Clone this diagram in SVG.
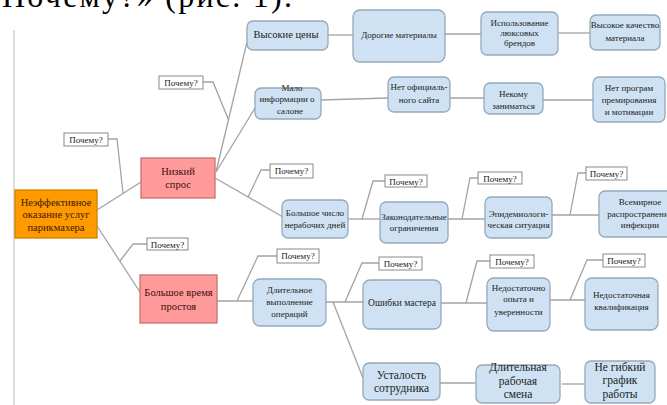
<svg xmlns="http://www.w3.org/2000/svg" width="667" height="405" viewBox="0 0 667 405">
<style>
text{font-family:"Liberation Serif","Times New Roman",serif;fill:#222;text-anchor:middle}
.b rect{fill:#cfe2f3;stroke:#95a9ba;stroke-width:1.3}
.b text{font-size:9px}
.big text{font-size:11.5px}
.p rect{fill:#ff9a9a;stroke:#c97070;stroke-width:1.3}
.p text{font-size:10.5px;fill:#3a1010}
.r rect{fill:#ff9900;stroke:#d08000;stroke-width:1.3}
.r text{font-size:10.5px;fill:#3a1a00}
.q rect{fill:#fff;stroke:#8a8a8a;stroke-width:1}
.q text{font-size:9px}
#connectors path{fill:none;stroke:#a3a3a3;stroke-width:1.3}
</style>
<rect width="667" height="405" fill="#fff"/>
<text x="2" y="7" style="font-size:32px;fill:#000;text-anchor:start" textLength="290" lengthAdjust="spacing">Почему?» (рис. 1).</text>
<line x1="14" y1="30" x2="14" y2="405" stroke="#cfcfcf" stroke-width="1.5"/>

<g id="connectors">
<path d="M97,210 L141,182"/>
<path d="M108,139 L117,139 L123,193"/>
<path d="M97,226 L140,292"/>
<path d="M147,244 L133,244 L120,261"/>
<path d="M216,172 L247,42"/>
<path d="M216,172 L255,108"/>
<path d="M203,82 L213,82 L228.6,120"/>
<path d="M215,178 L283,217"/>
<path d="M270,170 L261,170 L248,197"/>
<path d="M328,35 L353,35"/>
<path d="M445,34 L481,34"/>
<path d="M558,33 L590,33"/>
<path d="M321,100 L388,98"/>
<path d="M450,98 L484,98"/>
<path d="M543,100 L593,100"/>
<path d="M348,219 L380,219"/>
<path d="M385,181 L373,181 L362,219"/>
<path d="M448,219 L485,219"/>
<path d="M478,178 L470,178 L462,219"/>
<path d="M552,215 L599,215"/>
<path d="M586,173 L578,173 L570,215"/>
<path d="M217,301 L253,301"/>
<path d="M277,256 L258,256 L237,301"/>
<path d="M326,302 L363,302"/>
<path d="M333,302 L363,378"/>
<path d="M379,263 L362,263 L345,302"/>
<path d="M441,303 L487,303"/>
<path d="M490,261 L477,261 L466,303"/>
<path d="M550,300 L585,300"/>
<path d="M603,260 L587,260 L570,300"/>
<path d="M440,383 L475,383"/>
<path d="M562,384 L585,384"/>
</g>

<g id="root" class="r"><rect x="15" y="190" width="82" height="48"/>
<text x="56" y="206">Неэффективное</text><text x="56" y="218">оказание услуг</text><text x="56" y="231">парикмахера</text></g>

<g id="low-demand" class="p"><rect x="141" y="158" width="74" height="40"/>
<text x="178" y="175">Низкий</text><text x="178" y="188">спрос</text></g>
<g id="downtime" class="p"><rect x="140" y="275" width="77" height="48"/>
<text x="178.5" y="296">Большое время</text><text x="178.5" y="310">простоя</text></g>

<g id="high-prices" class="b"><rect x="247" y="21" width="81" height="29" rx="6"/>
<text x="286" y="38" style="font-size:10.5px">Высокие цены</text></g>
<g id="expensive-materials" class="b"><rect x="353" y="10" width="92" height="52" rx="7"/>
<text x="399" y="38">Дорогие материалы</text></g>
<g id="luxury-brands" class="b"><rect x="481" y="12" width="77" height="43" rx="6"/>
<text x="519.5" y="26">Использование</text><text x="519.5" y="36">люксовых</text><text x="519.5" y="46">брендов</text></g>
<g id="high-quality" class="b"><rect x="590" y="15" width="70" height="35" rx="6"/>
<text x="625" y="28">Высокое качество</text><text x="625" y="41">материала</text></g>

<g id="little-info" class="b"><rect x="255" y="88" width="66" height="31" rx="6"/>
<text x="292" y="91">Мало</text><text x="287" y="102">информации о</text><text x="290" y="114">салоне</text></g>
<g id="no-site" class="b"><rect x="388" y="77" width="62" height="35" rx="6"/>
<text x="419" y="90">Нет официаль-</text><text x="419" y="103">ного сайта</text></g>
<g id="nobody" class="b"><rect x="484" y="83" width="59" height="31" rx="6"/>
<text x="513.5" y="97">Некому</text><text x="513.5" y="109">заниматься</text></g>
<g id="no-bonus" class="b"><rect x="593" y="77" width="72" height="45" rx="6"/>
<text x="629" y="91">Нет програм</text><text x="629" y="103">премирования</text><text x="629" y="115">и мотивации</text></g>

<g id="days-off" class="b"><rect x="282" y="200" width="66" height="38" rx="6"/>
<text x="315" y="216">Большое число</text><text x="315" y="228">нерабочих дней</text></g>
<g id="law" class="b"><rect x="380" y="202" width="68" height="41" rx="6"/>
<text x="414" y="220">Законодательные</text><text x="414" y="231">ограничения</text></g>
<g id="epidemic" class="b"><rect x="485" y="197" width="67" height="41" rx="6"/>
<text x="518.5" y="217">Эпидемиологи-</text><text x="518.5" y="228">ческая ситуация</text></g>
<g id="pandemic" class="b"><rect x="599" y="191" width="76" height="46" rx="6"/>
<text x="640" y="205">Всемирное</text><text x="640" y="217">распространение</text><text x="640" y="228">инфекции</text></g>

<g id="long-ops" class="b"><rect x="253" y="279" width="73" height="47" rx="7"/>
<text x="289.5" y="293">Длительное</text><text x="289.5" y="305">выполнение</text><text x="289.5" y="317">операций</text></g>
<g id="errors" class="b"><rect x="363" y="280" width="78" height="49" rx="7"/>
<text x="402" y="306" style="font-size:9.5px">Ошибки мастера</text></g>
<g id="experience" class="b"><rect x="487" y="278" width="63" height="53" rx="7"/>
<text x="518.5" y="291">Недостаточно</text><text x="518.5" y="302">опыта и</text><text x="518.5" y="315">уверенности</text></g>
<g id="qualification" class="b"><rect x="585" y="278" width="73" height="52" rx="7"/>
<text x="621.5" y="298">Недостаточная</text><text x="621.5" y="310">квалификация</text></g>

<g id="fatigue" class="b big"><rect x="363" y="363" width="77" height="37" rx="6"/>
<text x="401.5" y="379">Усталость</text><text x="401.5" y="392">сотрудника</text></g>
<g id="long-shift" class="b big"><rect x="476" y="365" width="84" height="38" rx="6"/>
<text x="518" y="371">Длительная</text><text x="518" y="385">рабочая</text><text x="518" y="398">смена</text></g>
<g id="schedule" class="b big"><rect x="585" y="361" width="70" height="42" rx="6"/>
<text x="620" y="371">Не гибкий</text><text x="620" y="384">график</text><text x="620" y="398">работы</text></g>

<g id="why-1" class="q"><rect x="159" y="76" width="44" height="13"/><text x="181" y="86">Почему?</text></g>
<g id="why-2" class="q"><rect x="64" y="133" width="44" height="13"/><text x="86" y="143">Почему?</text></g>
<g id="why-3" class="q"><rect x="270" y="164" width="43" height="14"/><text x="291.5" y="174">Почему?</text></g>
<g id="why-4" class="q"><rect x="147" y="238" width="41" height="12"/><text x="167.5" y="247.5">Почему?</text></g>
<g id="why-5" class="q"><rect x="277" y="249" width="42" height="14"/><text x="298" y="259">Почему?</text></g>
<g id="why-6" class="q"><rect x="385" y="175" width="42" height="12"/><text x="406" y="184.5">Почему?</text></g>
<g id="why-7" class="q"><rect x="478" y="172" width="44" height="12"/><text x="500" y="181.5">Почему?</text></g>
<g id="why-8" class="q"><rect x="586" y="167" width="41" height="13"/><text x="606.5" y="177">Почему?</text></g>
<g id="why-9" class="q"><rect x="379" y="257" width="43" height="13"/><text x="400.5" y="267">Почему?</text></g>
<g id="why-10" class="q"><rect x="490" y="255" width="44" height="13"/><text x="512" y="265">Почему?</text></g>
<g id="why-11" class="q"><rect x="603" y="254" width="42" height="13"/><text x="624" y="264">Почему?</text></g>
</svg>
